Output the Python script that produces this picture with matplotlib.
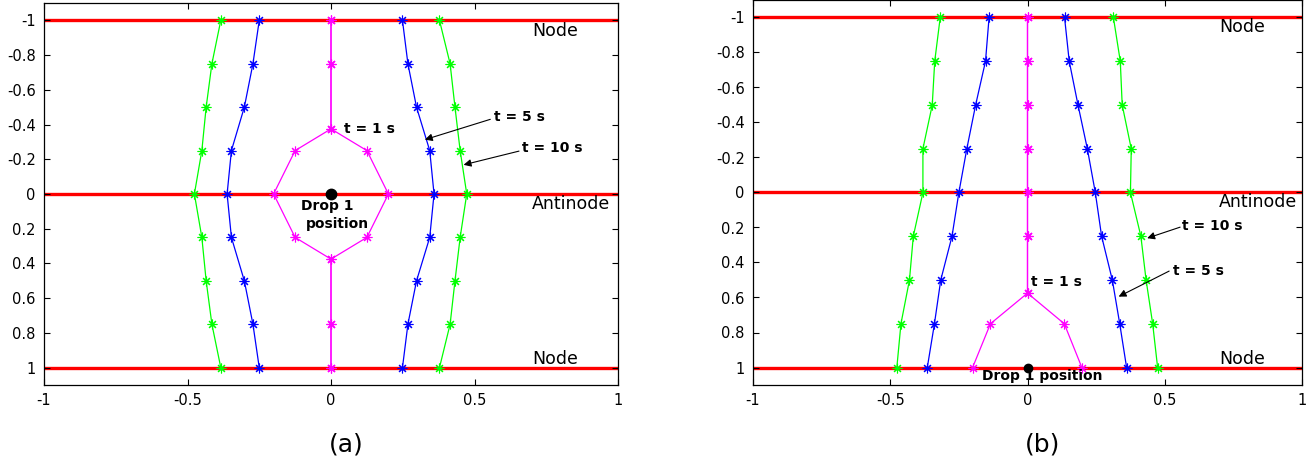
import matplotlib
matplotlib.use("Agg")
import matplotlib.pyplot as plt

# ---------------- data ----------------
y_levels = [-1, -0.75, -0.5, -0.25, 0, 0.25, 0.5, 0.75, 1]
y_ticks = [-1, -0.8, -0.6, -0.4, -0.2, 0, 0.2, 0.4, 0.6, 0.8, 1]
y_tick_labels = ["-1", "-0.8", "-0.6", "-0.4", "-0.2", "0", "0.2", "0.4", "0.6", "0.8", "1"]
x_ticks = [-1, -0.5, 0, 0.5, 1]
x_tick_labels = ["-1", "-0.5", "0", "0.5", "1"]
red_levels = [-1, 0, 1]

# panel (a): drop at the antinode (y = 0)
a_mag_y = [-1, -0.75, -0.375, -0.25, 0, 0.25, 0.375, 0.75, 1]
a_mag_left = [0, 0, 0, -0.125, -0.2, -0.125, 0, 0, 0]
a_mag_right = [0, 0, 0, 0.125, 0.2, 0.125, 0, 0, 0]
a_blue_left = [-0.25, -0.272, -0.302, -0.347, -0.362, -0.347, -0.302, -0.272, -0.25]
a_blue_right = [0.249, 0.268, 0.298, 0.344, 0.359, 0.344, 0.298, 0.268, 0.249]
a_green_left = [-0.384, -0.415, -0.435, -0.45, -0.476, -0.45, -0.435, -0.415, -0.384]
a_green_right = [0.378, 0.415, 0.432, 0.45, 0.473, 0.45, 0.432, 0.415, 0.378]

# panel (b): drop at the node (y = 1)
b_mag_y = [-1, -0.75, -0.5, -0.25, 0, 0.25, 0.575, 0.75, 1]
b_mag_left = [0, 0, 0, 0, 0, 0, 0, -0.135, -0.2]
b_mag_right = [0, 0, 0, 0, 0, 0, 0, 0.134, 0.198]
b_blue_left = [-0.14, -0.153, -0.189, -0.221, -0.25, -0.275, -0.316, -0.339, -0.365]
b_blue_right = [0.135, 0.152, 0.184, 0.218, 0.247, 0.27, 0.309, 0.336, 0.361]
b_green_left = [-0.318, -0.338, -0.347, -0.381, -0.381, -0.416, -0.43, -0.461, -0.476]
b_green_right = [0.313, 0.338, 0.345, 0.378, 0.375, 0.413, 0.432, 0.456, 0.474]

drop_a = (0, 0)
drop_b = (0, 1)

# ---------------- figure ----------------
plt.rcParams['font.family'] = ['DejaVu Sans']
fig = plt.figure(figsize=(13.1, 4.65), dpi=100)
axA = fig.add_axes([44 / 1310, 80 / 465, 574 / 1310, 382 / 465])
axB = fig.add_axes([753 / 1310, 80 / 465, 549 / 1310, 385 / 465])

star = (8, 2, 0)


def setup(ax):
    ax.set_xlim(-1, 1)
    ax.set_ylim(1.1, -1.1)
    ax.set_xticks(x_ticks)
    ax.set_xticklabels(x_tick_labels)
    ax.set_yticks(y_ticks)
    ax.set_yticklabels(y_tick_labels)
    ax.tick_params(direction='in', top=True, right=True, length=4, width=0.8,
                   labelsize=10.5, pad=6)
    for s in ax.spines.values():
        s.set_linewidth(0.9)
    for yl in red_levels:
        ax.axhline(yl, color='#ff0000', lw=2.4, zorder=1)


def curves(ax, my, ml, mr, bl, br, gl, gr):
    kw = dict(lw=0.9, marker=star, markersize=7, markeredgewidth=0.8, zorder=3)
    ax.plot(ml, my, color='#ff00ff', **kw)
    ax.plot(mr, my, color='#ff00ff', **kw)
    ax.plot(bl, y_levels, color='#0000ff', **kw)
    ax.plot(br, y_levels, color='#0000ff', **kw)
    ax.plot(gl, y_levels, color='#00ff00', **kw)
    ax.plot(gr, y_levels, color='#00ff00', **kw)


def arrow(ax, start, tip):
    ax.annotate('', xy=tip, xytext=start,
                arrowprops=dict(arrowstyle='-|>', color='k', lw=0.8,
                                mutation_scale=11, shrinkA=0, shrinkB=0),
                zorder=5)


bold = dict(fontsize=10, fontweight='bold', color='k')

# ---- panel (a)
setup(axA)
curves(axA, a_mag_y, a_mag_left, a_mag_right, a_blue_left, a_blue_right,
       a_green_left, a_green_right)
axA.plot([drop_a[0]], [drop_a[1]], 'o', color='k', markersize=7.5, zorder=4)
axA.text(0.70, -0.94, 'Node', fontsize=12.5, ha='left', va='center')
axA.text(0.70, 0.055, 'Antinode', fontsize=12.5, ha='left', va='center')
axA.text(0.70, 0.948, 'Node', fontsize=12.5, ha='left', va='center')
axA.text(0.045, -0.375, 't = 1 s', ha='left', va='center', **bold)
axA.text(0.567, -0.444, 't = 5 s', ha='left', va='center', **bold)
arrow(axA, (0.555, -0.43), (0.327, -0.313))
axA.text(0.667, -0.264, 't = 10 s', ha='left', va='center', **bold)
arrow(axA, (0.655, -0.247), (0.462, -0.168))
axA.text(-0.013, 0.069, 'Drop 1', ha='center', va='center', **bold)
axA.text(0.023, 0.173, 'position', ha='center', va='center', **bold)

# ---- panel (b)
setup(axB)
curves(axB, b_mag_y, b_mag_left, b_mag_right, b_blue_left, b_blue_right,
       b_green_left, b_green_right)
axB.plot([drop_b[0]], [drop_b[1]], 'o', color='k', markersize=6, zorder=4)
axB.text(0.697, -0.947, 'Node', fontsize=12.5, ha='left', va='center')
axB.text(0.697, 0.055, 'Antinode', fontsize=12.5, ha='left', va='center')
axB.text(0.697, 0.952, 'Node', fontsize=12.5, ha='left', va='center')
axB.text(0.562, 0.189, 't = 10 s', ha='left', va='center', **bold)
arrow(axB, (0.556, 0.198), (0.436, 0.261))
axB.text(0.531, 0.448, 't = 5 s', ha='left', va='center', **bold)
arrow(axB, (0.516, 0.449), (0.332, 0.595))
axB.text(0.011, 0.511, 't = 1 s', ha='left', va='center', **bold)
axB.text(0.053, 1.05, 'Drop 1 position', ha='center', va='center', **bold)

fig.text(346 / 1310, 1 - 444 / 465, '(a)', fontsize=18, ha='center', va='center')
fig.text(1043 / 1310, 1 - 444 / 465, '(b)', fontsize=18, ha='center', va='center')

fig.savefig('out.png', dpi=100)
